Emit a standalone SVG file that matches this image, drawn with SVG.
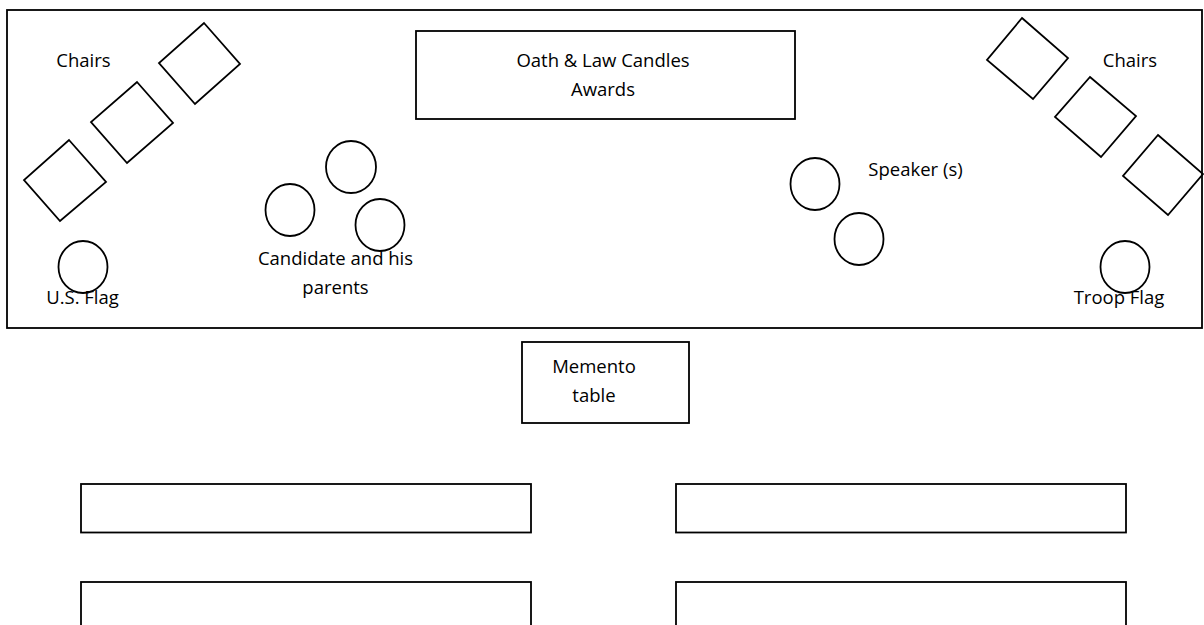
<svg xmlns="http://www.w3.org/2000/svg" width="1204" height="625" viewBox="0 0 1204 625">
<style>
.s{fill:none;stroke:#000;stroke-width:1.8}
.f{fill:#fff;stroke:#000;stroke-width:1.8}
.t{font-family:"Open Sans","Liberation Sans",sans-serif;font-size:18.5px;fill:#000;text-anchor:middle}
</style>
<rect width="1204" height="625" fill="#fff"/>
<g id="room"><rect class="s" x="7" y="10" width="1195" height="318"/></g>
<g id="candles"><rect class="f" x="416" y="31" width="379" height="88"/><text class="t" x="603" y="67">Oath &amp; Law Candles</text><text class="t" x="603" y="96">Awards</text></g>
<g id="chairs-left">
<polygon class="s" points="204,23 240,64 195,104 159,63"/>
<polygon class="s" points="137,82 173,123 127,163 91,122"/>
<polygon class="s" points="69,140 106,182 60,221 24,180"/>
<text class="t" x="83.5" y="67">Chairs</text>
</g>
<g id="chairs-right">
<polygon class="s" points="1022,18 1068,58 1033,99 987,60"/>
<polygon class="s" points="1090,77 1136,116 1101,157 1055,117"/>
<polygon class="s" points="1158,135 1203,174 1168,215 1123,176"/>
<text class="t" x="1130" y="67">Chairs</text>
</g>
<g id="us-flag"><ellipse class="s" cx="83" cy="267" rx="24.5" ry="26"/><text class="t" x="82.5" y="304">U.S. Flag</text></g>
<g id="candidate">
<ellipse class="s" cx="351" cy="167" rx="25" ry="26"/>
<ellipse class="s" cx="290" cy="210" rx="24.5" ry="26"/>
<ellipse class="s" cx="380" cy="225" rx="24.5" ry="26"/>
<text class="t" x="335.5" y="265">Candidate and his</text>
<text class="t" x="335.5" y="294">parents</text>
</g>
<g id="speakers">
<ellipse class="s" cx="815" cy="184" rx="24.5" ry="26"/>
<ellipse class="s" cx="859" cy="239" rx="24.5" ry="26"/>
<text class="t" x="915.5" y="176">Speaker (s)</text>
</g>
<g id="troop-flag"><ellipse class="s" cx="1125" cy="267" rx="24.5" ry="26"/><text class="t" x="1119" y="304">Troop Flag</text></g>
<g id="memento"><rect class="f" x="522" y="342" width="167" height="81"/><text class="t" x="594" y="373">Memento</text><text class="t" x="594" y="402">table</text></g>
<g id="tables">
<rect class="s" x="81" y="484" width="450" height="48.5"/>
<rect class="s" x="676" y="484" width="450" height="48.5"/>
<rect class="s" x="81" y="582" width="450" height="60"/>
<rect class="s" x="676" y="582" width="450" height="60"/>
</g>
<g id="connectors"/>
</svg>
